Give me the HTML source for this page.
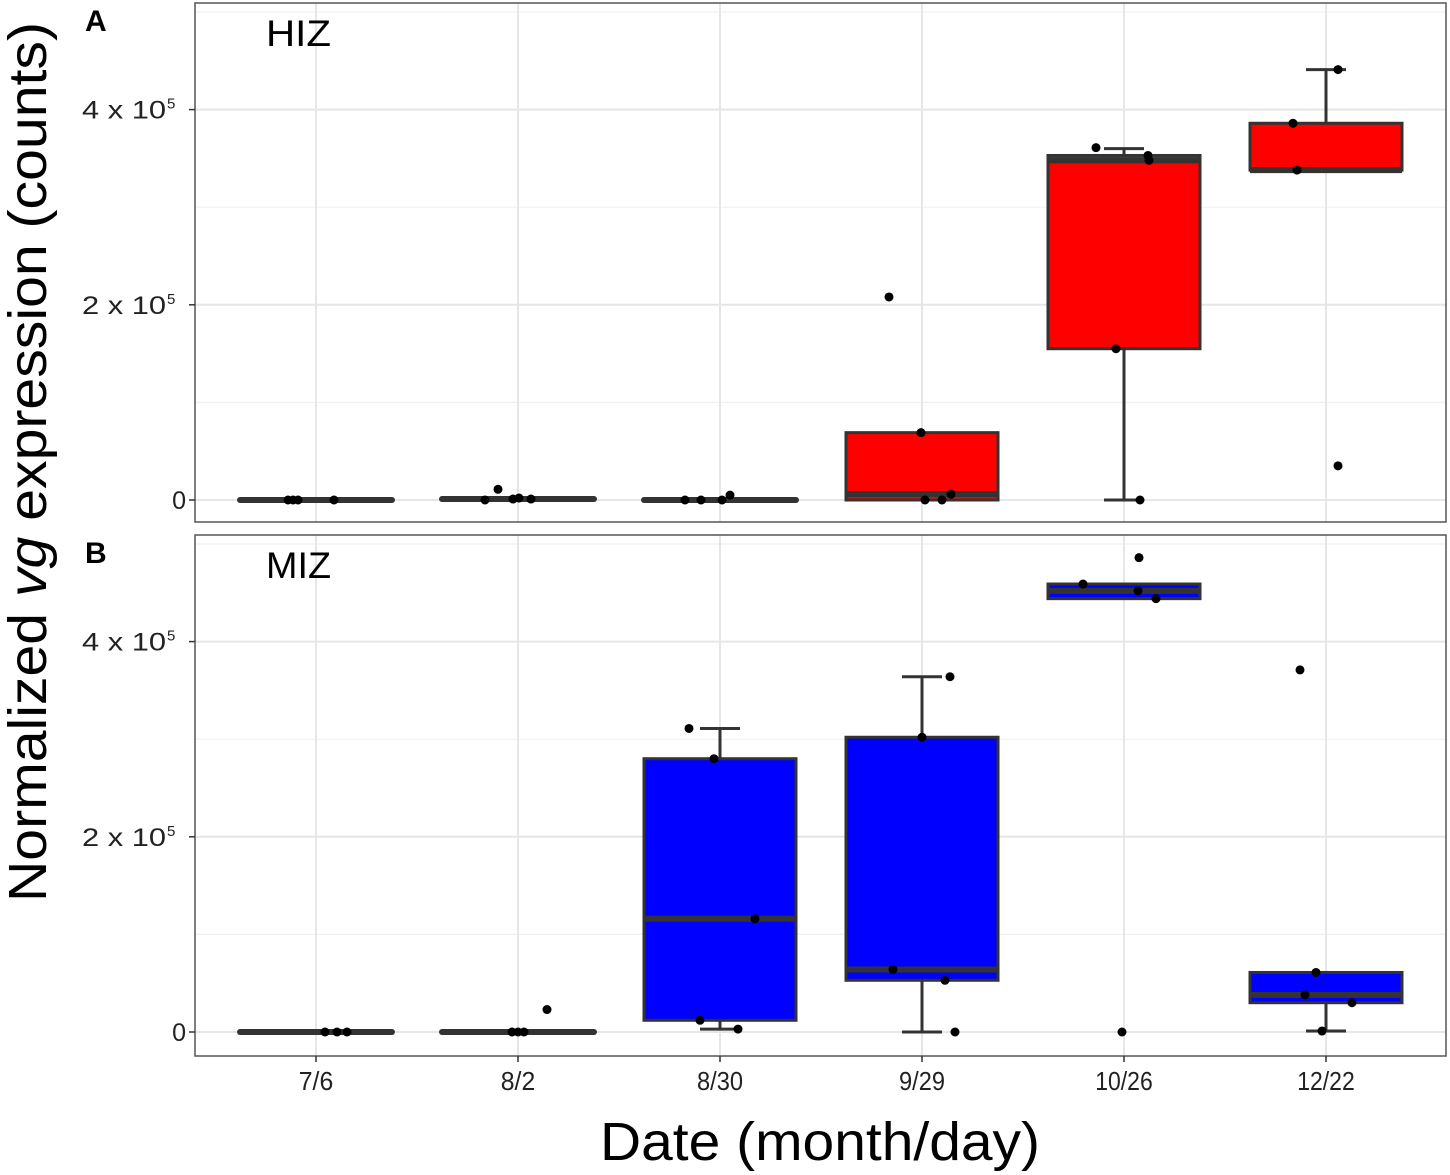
<!DOCTYPE html>
<html><head><meta charset="utf-8"><style>
html,body{margin:0;padding:0;background:#fff;}
svg{display:block;font-family:"Liberation Sans",sans-serif;}
</style></head><body>
<svg id="chart" width="1450" height="1175" viewBox="0 0 1450 1175" xmlns="http://www.w3.org/2000/svg"></svg>
<script>
const categories = ["7/6","8/2","8/30","9/29","10/26","12/22"];
const yTicks = [0, 2, 4];
const yTickLabels = ["0", "2 x 10", "4 x 10"];
// values in units of 1e5 counts: [whiskerLow, q1, median, q3, whiskerHigh]
const hizStats = [
  [0,0,0,0.01,0.01],[0,0,0.01,0.02,0.02],[0,0,0,0.01,0.01],
  [0,0,0.06,0.69,0.69],[0,1.55,3.48,3.53,3.60],[3.38,3.38,3.38,3.86,4.41]
];
const hizPointsCat = [0,0,0,0,1,1,1,1,1,2,2,2,2,3,3,3,3,3,4,4,4,4,4,5,5,5,5];
const hizPointsVal = [0,0,0,0,0,0.01,0.02,0.01,0.11,0,0,0,0.05,2.08,0.69,0,0,0.06,3.61,3.53,3.48,1.55,0,3.86,3.38,4.41,0.35];
const hizPointsJit = [-28,-23,-18,18,-33,-5,1,13,-20,-35,-19,2,10,-33,-1,3,20,29,-28,24,25,-8,16,-33,-29,12,12];
const mizStats = [
  [0,0,0,0.01,0.01],[0,0,0,0.01,0.01],[0.03,0.12,1.16,2.80,3.11],
  [0,0.53,0.64,3.02,3.64],[4.44,4.44,4.52,4.59,4.59],[0.01,0.30,0.38,0.61,0.61]
];
const mizPointsCat = [0,0,0,1,1,1,1,2,2,2,2,2,3,3,3,3,3,4,4,4,4,4,5,5,5,5,5];
const mizPointsVal = [0,0,0,0,0,0,0.23,3.11,2.80,1.16,0.12,0.03,3.64,3.02,0.64,0.53,0,4.59,4.86,4.52,4.44,0,0.61,0.38,0.30,0.01,3.71];
const mizPointsJit = [9,21,31,-6,0,6,29,-31,-6,35,-20,18,28,0,-29,23,33,-41,15,14,32,-2,-10,-21,26,-4,-26];

const NS="http://www.w3.org/2000/svg";
const svg=document.getElementById('chart');
function el(tag,attrs,parent){const e=document.createElementNS(NS,tag);for(const k in attrs)e.setAttribute(k,attrs[k]);(parent||svg).appendChild(e);return e;}
const X0=195,X1=1446;
function xPos(i){return 316+i*202;}
function makeY(zero,perUnit){return v=>zero-v*perUnit;}

function panel(top,bottom,zero,stats,pc,pv,pj,fill,tag,label,name){
  const y=makeY(zero,97.6);
  const g=el('g',{});
  
  
  [1,3,5].forEach(v=>{const ln=el('line',{x1:X0,x2:X1,y1:y(v),y2:y(v),stroke:'#f0f0f0','stroke-width':1.2},g);});
  yTicks.forEach(v=>{const ln=el('line',{x1:X0,x2:X1,y1:y(v),y2:y(v),stroke:'#e6e6e6','stroke-width':2},g);});
  categories.forEach((c,i)=>{const ln=el('line',{x1:xPos(i),x2:xPos(i),y1:top,y2:bottom,stroke:'#e6e6e6','stroke-width':2},g);});
  stats.forEach((s,i)=>{
    const cx=xPos(i),hw=76;
    const bg=el('g',{},g);
    
    
    if(s[4]>s[3]) el('line',{x1:cx,x2:cx,y1:y(s[3]),y2:y(s[4]),stroke:'#333','stroke-width':3},bg);
    if(s[1]>s[0]) el('line',{x1:cx,x2:cx,y1:y(s[1]),y2:y(s[0]),stroke:'#333','stroke-width':3},bg);
    if(s[4]>s[3]) el('line',{x1:cx-20,x2:cx+20,y1:y(s[4]),y2:y(s[4]),stroke:'#333','stroke-width':3},bg);
    if(s[1]>s[0]) el('line',{x1:cx-20,x2:cx+20,y1:y(s[0]),y2:y(s[0]),stroke:'#333','stroke-width':3},bg);
    const h=y(s[1])-y(s[3]);
    el('rect',{x:cx-hw,y:y(s[3]),width:hw*2,height:Math.max(h,0.5),fill:fill,stroke:'#333','stroke-width':3,rx:h<3?3:0},bg);
    el('line',{x1:cx-hw,x2:cx+hw,y1:y(s[2]),y2:y(s[2]),stroke:'#333','stroke-width':6,'stroke-linecap':h<3?'round':'butt'},bg);
  });
  pv.forEach((v,k)=>{
    const c=el('circle',{cx:xPos(pc[k])+pj[k],cy:y(v),r:4.5,fill:'#000'},g);
    
    
  });
  const b=el('rect',{x:X0,y:top,width:X1-X0,height:bottom-top,fill:'none',stroke:'#555','stroke-width':1.5},g);
  
  yTicks.forEach((v,i)=>{
    el('line',{x1:189,x2:X0,y1:y(v),y2:y(v),stroke:'#333','stroke-width':1.5},g);
    const t=el('text',{x:i==0?186:166,y:y(v)+9,'text-anchor':'end','font-size':25,fill:'#222'},g);
    
    if(i>0){t.setAttribute('textLength',84);t.setAttribute('lengthAdjust','spacingAndGlyphs');}
    t.textContent=yTickLabels[i];
    if(i>0){const sup=el('text',{x:167,y:y(v)-1,'font-size':15,fill:'#222'},g);sup.textContent='5';}
  });
  const tl=el('text',{x:85,y:top+28,'font-size':30,'font-weight':'bold',fill:'#000'},g);
  tl.textContent=tag;
  const lb=el('text',{x:266,y:top+43,'font-size':37,fill:'#000',textLength:65,lengthAdjust:'spacingAndGlyphs'},g);
  lb.textContent=label;
}
panel(3,522,500,hizStats,hizPointsCat,hizPointsVal,hizPointsJit,'#ff0000','A','HIZ','panel-a-hiz');
panel(535,1056,1032,mizStats,mizPointsCat,mizPointsVal,mizPointsJit,'#0000ff','B','MIZ','panel-b-miz');
categories.forEach((c,i)=>{
  el('line',{x1:xPos(i),x2:xPos(i),y1:1056,y2:1062,stroke:'#333','stroke-width':1.5});
  const t=el('text',{x:xPos(i),y:1090,'text-anchor':'middle','font-size':26,fill:'#222',textLength:c.length*11.5,lengthAdjust:'spacingAndGlyphs'});
  
  t.textContent=c;
});
const xt=el('text',{x:600,y:1160,'font-size':54,fill:'#000',textLength:440,lengthAdjust:'spacingAndGlyphs'});

xt.textContent='Date (month/day)';
const yt=el('text',{x:0,y:0,'font-size':54,fill:'#000','text-anchor':'middle',transform:'translate(46,462) rotate(-90)',textLength:880,lengthAdjust:'spacingAndGlyphs'});

yt.innerHTML='Normalized <tspan font-style="italic">vg</tspan> expression (counts)';
</script>
</body></html>
